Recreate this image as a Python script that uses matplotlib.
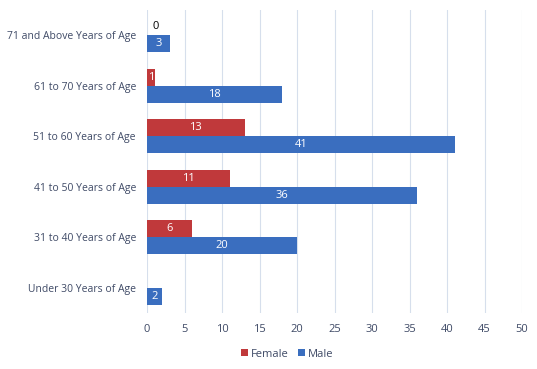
import matplotlib.pyplot as plt
import numpy as np

categories = ['Under 30 Years of Age', '31 to 40 Years of Age', '41 to 50 Years of Age',
              '51 to 60 Years of Age', '61 to 70 Years of Age', '71 and Above Years of Age']
female = [0, 6, 11, 13, 1, 0]
male = [2, 20, 36, 41, 18, 3]
female_labels = ['', '6', '11', '13', '1', '0']
male_labels = ['2', '20', '36', '41', '18', '3']

red = '#C0393B'
blue = '#3A6EBF'
txt = '#3F4A66'

plt.rcParams['font.family'] = ['Open Sans', 'DejaVu Sans']

fig = plt.figure(figsize=(5.37, 3.69), dpi=100)
ax = fig.add_axes([147 / 537, 0.152, 375 / 537, 0.821])

y = np.arange(len(categories))
h = 0.34
ax.barh(y + h / 2, female, height=h, color=red, label='Female', zorder=3)
ax.barh(y - h / 2, male, height=h, color=blue, label='Male', zorder=3)

for i in range(len(categories)):
    if female_labels[i]:
        if female[i] == 0:
            ax.text(1.1, y[i] + h / 2, female_labels[i], ha='center', va='center',
                    fontsize=8, color='black', zorder=4)
        else:
            ax.text(female[i] / 2, y[i] + h / 2, female_labels[i], ha='center', va='center',
                    fontsize=8, color='white', zorder=4)
    ax.text(male[i] / 2, y[i] - h / 2, male_labels[i], ha='center', va='center',
            fontsize=8, color='white', zorder=4)

ax.set_xlim(0, 50)
ax.set_ylim(-0.5, len(categories) - 0.5)
ax.set_xticks(np.arange(0, 51, 5))
ax.set_yticks(y)
ax.set_yticklabels(categories)
ax.tick_params(axis='both', length=0, labelsize=7.5, colors=txt)
ax.tick_params(axis='x', pad=8, labelsize=8)
ax.tick_params(axis='y', pad=8)
ax.grid(axis='x', color='#D6DFEC', linewidth=0.8, zorder=0)
ax.set_axisbelow(True)
for s in ax.spines.values():
    s.set_visible(False)

leg = fig.legend(loc='center', bbox_to_anchor=(0.535, 0.04), ncol=2, frameon=False,
                 fontsize=8, handlelength=0.6, handleheight=0.6, handletextpad=0.3,
                 columnspacing=0.8)
for t in leg.get_texts():
    t.set_color(txt)

fig.savefig('out.png', dpi=100)
